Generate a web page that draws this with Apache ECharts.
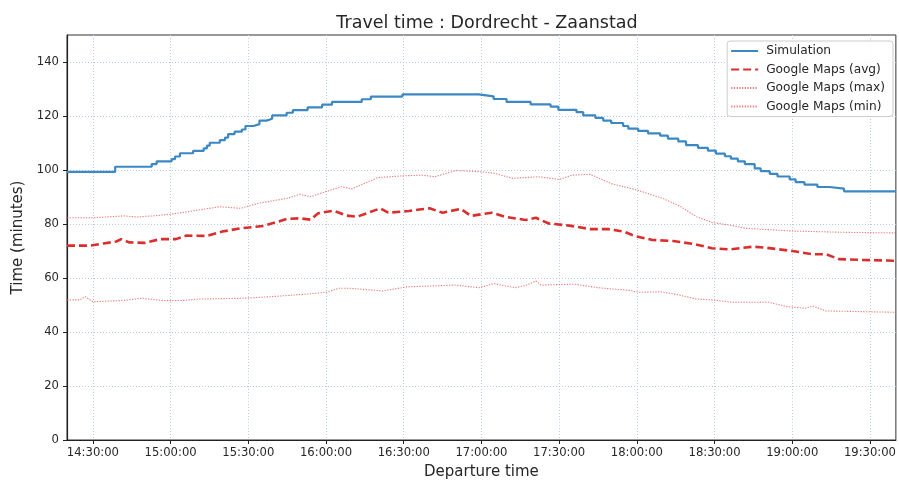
<!DOCTYPE html>
<html>
<head>
<meta charset="utf-8">
<script src="https://cdn.jsdelivr.net/npm/echarts@6/dist/echarts.min.js"></script>
<style>
html,body{margin:0;padding:0;background:#fff;}
#chart{width:899px;height:485px;}
</style>
</head>
<body>
<div id="chart"></div>
<script>
// ---- data ----
const titleText = 'Travel time : Dordrecht - Zaanstad';
const xName = 'Departure time';
const yName = 'Time (minutes)';
const seriesNames = ['Simulation', 'Google Maps (avg)', 'Google Maps (max)', 'Google Maps (min)'];

const xTickLabels = ['14:30:00','15:00:00','15:30:00','16:00:00','16:30:00','17:00:00','17:30:00','18:00:00','18:30:00','19:00:00','19:30:00'];
const yTickValues = [0, 20, 40, 60, 80, 100, 120, 140];
const xStart = '14:20:00';
const xEnd = '19:40:00';
const yMax = 150;

// Simulation: time at which each value starts (step curve)
const simTimes = ['14:20:00','14:38:36','14:52:42','14:54:36','15:00:24','15:01:42','15:03:36','15:08:42','15:12:48','15:14:00','15:15:06','15:19:00','15:21:00','15:22:12','15:24:42','15:27:30','15:28:54','15:32:00','15:34:18','15:37:00','15:39:12','15:44:48','15:47:12','15:52:54','15:58:30','16:02:18','16:13:48','16:17:18','16:29:30',
  '16:59:00','17:04:42','17:09:42','17:19:00','17:26:42','17:29:42','17:36:42','17:39:18','17:44:00','17:47:00','17:50:06','17:54:42','17:56:42','18:00:30','18:04:18','18:09:00','18:12:00','18:16:00','18:19:00','18:23:36','18:27:24','18:30:30','18:34:00','18:36:18','18:39:00','18:41:42','18:45:30','18:47:48','18:51:18','18:54:18','18:59:00','19:01:18','19:04:42','19:09:42','19:14:18','19:20:00','19:40:00'];
const simValues = [99.3,101.2,102.2,103.2,104,105,106.2,107.1,108,109,110.1,111.1,112,113.3,114.2,115,116.3,117,118.3,119,120.2,121.2,122.2,123.2,124.2,125.2,126.2,127.2,128,
  127.3,126.3,125.2,124.3,123.5,122.3,121.4,120.2,119.3,118.3,117.4,116.3,115.3,114.5,113.6,112.7,111.6,110.6,109.2,108.2,107.2,106.1,105.1,104.2,103.2,102.2,100.6,99.6,98.6,97.6,96.5,95.5,94.6,93.7,93.1,92.1,92.1];

const avgTimes = ['14:20','14:29','14:34','14:39','14:41','14:44','14:50','14:56','15:02','15:06','15:14','15:20','15:27','15:36','15:45','15:50','15:54','15:57','16:03','16:08','16:12','16:21','16:24','16:32','16:36','16:40','16:45','16:52','16:56','17:04','17:09','17:17','17:21','17:26','17:34','17:42','17:49','17:55','17:59','18:06','18:14','18:22','18:29','18:36','18:45','18:50','19:00','19:08','19:13','19:18','19:27','19:40'];
const avgValues = [72,72,72.8,73.5,74.4,73.2,73,74.4,74.4,75.7,75.6,77.2,78.4,79.3,81.9,82.1,81.6,84,84.9,83.1,82.7,85.8,84.2,84.8,85.4,85.8,84.2,85.6,83,84.2,82.7,81.5,82.3,80.2,79.4,78.1,78.1,77.2,75.6,74.1,73.7,72.6,71,70.6,71.6,71.2,70,68.8,68.8,67,66.7,66.4];

const maxTimes = ['14:20','14:30','14:42','14:47','14:53','15:00','15:11','15:19','15:27','15:34','15:45','15:50','15:54','16:00','16:06','16:10','16:20','16:29','16:37','16:42','16:50','16:59','17:05','17:12','17:22','17:30','17:35','17:42','17:50','18:00','18:10','18:17','18:23','18:29','18:37','18:42','19:00','19:21','19:40'];
const maxValues = [82.3,82.3,83,82.6,83,83.6,85.2,86.4,85.8,87.7,89.5,91,90.1,92,93.8,93,97.2,97.8,98.1,97.5,99.8,99.4,98.8,96.9,97.5,96.5,98.1,98.4,95,92.6,89.5,86.4,82.7,80.6,79.4,78.4,77.4,76.9,76.7];

const minTimes = ['14:20','14:25','14:27','14:30','14:42','14:49','14:58','15:05','15:11','15:28','15:39','15:52','16:00','16:05','16:09','16:22','16:31','16:50','16:59','17:05','17:13','17:17','17:21','17:23','17:36','17:45','17:51','17:57','18:01','18:09','18:15','18:23','18:29','18:37','18:51','18:58','19:05','19:08','19:13','19:40'];
const minValues = [51.9,51.9,53.1,51.2,51.7,52.5,51.6,51.7,52.2,52.5,53.1,54,54.7,56.2,56.2,55.2,56.7,57.4,56.4,57.9,56.4,57.2,58.9,57.4,57.7,56.4,55.9,55.4,54.7,54.9,54,52.2,51.9,51,51,49.4,48.8,49.6,47.8,47.3];

// ---- helpers ----
function toMin(s) {
  const p = s.split(':').map(Number);
  return p[0] * 60 + p[1] + (p[2] || 0) / 60;
}
function fmt(v) {
  const tot = Math.round(v * 60);
  const h = Math.floor(tot / 3600), m = Math.floor((tot % 3600) / 60), sec = tot % 60;
  const pad = n => (n < 10 ? '0' : '') + n;
  return pad(h) + ':' + pad(m) + ':' + pad(sec);
}
function pairs(ts, vs) { return ts.map((t, i) => [toMin(t), vs[i]]); }

const xTickValues = xTickLabels.map(toMin);
const FONT = 'DejaVu Sans';
const TXT = '#262626';
const PINK = 'rgba(225,80,80,0.75)';

const chart = echarts.init(document.getElementById('chart'), null, {renderer: 'canvas'});
chart.setOption({
  animation: false,
  backgroundColor: '#fff',
  textStyle: {fontFamily: FONT},
  title: {
    text: titleText, left: 482, top: 9, textAlign: 'center',
    textStyle: {fontFamily: FONT, fontSize: 17.5, fontWeight: 'normal', color: TXT}
  },
  grid: {left: 67, right: 0.5, top: 35, bottom: 45, show: true, borderColor: '#333', borderWidth: 1, backgroundColor: 'transparent'},
  legend: {
    orient: 'vertical', right: 6, top: 41,
    padding: [4, 8, 4, 3],
    itemWidth: 27, itemHeight: 14, itemGap: 6.5,
    itemStyle: {opacity: 0},
    backgroundColor: 'rgba(255,255,255,0.85)', borderColor: '#cccccc', borderWidth: 1, borderRadius: 3,
    textStyle: {fontFamily: FONT, fontSize: 12.2, color: TXT, padding: [0, 0, 0, 3]},
    data: seriesNames
  },
  xAxis: {
    type: 'value', min: toMin(xStart), max: toMin(xEnd),
    name: xName, nameLocation: 'middle', nameGap: 25,
    nameTextStyle: {fontFamily: FONT, fontSize: 15, color: TXT},
    axisLine: {show: true, lineStyle: {color: '#222', width: 1.2}},
    axisTick: {show: true, length: 4, inside: false, customValues: xTickValues, lineStyle: {color: '#222'}},
    axisLabel: {customValues: xTickValues, formatter: v => fmt(v), fontFamily: FONT, fontSize: 11.6, color: TXT, margin: 7},
    splitLine: {show: true, lineStyle: {color: '#b9c9e2', type: [1, 2], width: 1}}
  },
  yAxis: {
    type: 'value', min: 0, max: yMax,
    name: yName, nameLocation: 'middle', nameGap: 40.5, nameRotate: 90,
    nameTextStyle: {fontFamily: FONT, fontSize: 15, color: TXT},
    axisLine: {show: true, lineStyle: {color: '#222', width: 1.2}},
    axisTick: {show: true, length: 4, customValues: yTickValues, lineStyle: {color: '#222'}},
    axisLabel: {customValues: yTickValues, fontFamily: FONT, fontSize: 11.6, color: TXT, margin: 8},
    splitLine: {show: true, lineStyle: {color: '#b9c9e2', type: [1, 2], width: 1}}
  },
  series: [
    {name: seriesNames[0], type: 'line', step: 'end', showSymbol: false, symbol: 'none',
     data: pairs(simTimes, simValues), z: 5,
     itemStyle: {color: '#3b88c3'}, lineStyle: {color: '#3b88c3', width: 2.2}},
    {name: seriesNames[1], type: 'line', showSymbol: false, symbol: 'none', smooth: false,
     data: pairs(avgTimes, avgValues), z: 4,
     itemStyle: {color: '#d92e2e'}, lineStyle: {color: '#d92e2e', width: 2.6, type: [8, 4]}},
    {name: seriesNames[2], type: 'line', showSymbol: false, symbol: 'none',
     data: pairs(maxTimes, maxValues), z: 3,
     itemStyle: {color: PINK}, lineStyle: {color: PINK, width: 1.1, type: [1.3, 1.4]}},
    {name: seriesNames[3], type: 'line', showSymbol: false, symbol: 'none',
     data: pairs(minTimes, minValues), z: 3,
     itemStyle: {color: PINK}, lineStyle: {color: PINK, width: 1.1, type: [1.3, 1.4]}}
  ]
});
</script>
</body>
</html>
